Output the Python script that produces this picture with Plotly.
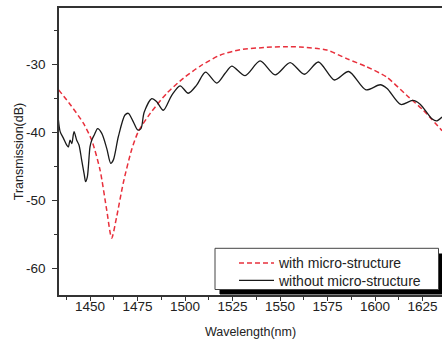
import plotly.graph_objects as go

# with micro-structure (red dashed)
wl_with = [1433.5, 1440.0, 1446.5, 1450.9, 1455.3, 1458.8, 1461.4, 1464.0, 1467.5, 1471.9,
           1475.4, 1481.6, 1490.4, 1499.1, 1508.0, 1518.4, 1528.9, 1542.9, 1552.0, 1560.5, 1574.6,
           1585.0, 1595.5, 1606.0, 1616.6, 1625.4, 1635.2]
t_with = [-33.8, -36.1, -38.7, -41.2, -45.6, -51.5, -55.6, -52.5, -47.5, -42.6,
          -39.95, -37.3, -34.3, -32.1, -30.3, -28.7, -27.9, -27.55, -27.45, -27.5, -27.95,
          -29.2, -30.4, -31.9, -34.6, -36.8, -39.8]

# without micro-structure (black solid)
wl_without = [1433.3, 1434.3, 1436.0, 1437.7, 1438.6, 1439.5, 1440.4, 1441.6, 1443.0, 1444.2,
              1445.6, 1447.0, 1447.7, 1448.6, 1450.0, 1450.9, 1452.3, 1454.0, 1456.2, 1458.8,
              1460.9, 1462.3, 1464.9, 1468.4, 1470.2, 1472.8, 1475.1, 1476.8, 1478.5, 1482.5,
              1485.0, 1488.6, 1493.0, 1497.4, 1501.7, 1506.1, 1510.8, 1516.7, 1521.0, 1524.6,
              1531.6, 1539.5, 1547.4, 1555.3, 1562.8, 1570.2, 1578.6, 1586.1, 1595.2, 1602.7,
              1606.3, 1613.5, 1619.8, 1623.7, 1629.9, 1632.5, 1635.2]
t_without = [-38.0, -39.95, -40.9, -41.9, -42.2, -41.2, -41.7, -39.95, -41.2, -41.9,
             -44.1, -46.3, -47.3, -46.6, -42.2, -41.2, -40.4, -39.5, -40.2, -42.4,
             -44.6, -44.1, -40.7, -37.5, -37.25, -38.5, -39.7, -39.5, -37.1, -35.1,
             -35.5, -36.8, -34.6, -33.2, -34.3, -33.1, -31.2, -32.8, -31.4, -30.3,
             -31.7, -29.55, -31.6, -29.8, -31.5, -29.7, -32.35, -31.1, -33.8, -33.05,
             -33.6, -35.95, -35.35, -35.9, -38.05, -38.35, -37.8]

x_ticks = [1450, 1475, 1500, 1525, 1550, 1575, 1600, 1625]
y_ticks = [-60, -50, -40, -30]

FONT = "Liberation Sans, Arial, sans-serif"
TXT = "#222"

fig = go.Figure()
fig.add_trace(go.Scatter(x=wl_with, y=t_with, mode="lines", name="with micro-structure",
                         legend="legend",
                         line=dict(color="#e8303c", width=1.5, dash="5px,3px", shape="spline", smoothing=0.7)))
fig.add_trace(go.Scatter(x=wl_without, y=t_without, mode="lines", name="without micro-structure",
                         legend="legend2",
                         line=dict(color="#1a1a1a", width=1.3, shape="spline", smoothing=0.8)))

# legend frame: drop shadow then white box, in pixel-based paper coordinates
W, H, L, T, B = 442, 339, 59, 8, 44
PW, PH = W - L, H - T - B
def px(x):
    return (x - L) / PW
def py(y):
    return (H - B - y) / PH

fig.add_shape(type="rect", xref="paper", yref="paper",
              x0=px(220), x1=px(442), y0=py(294), y1=py(254),
              fillcolor="black", line=dict(width=1, color="black"), layer="above")
fig.add_shape(type="rect", xref="paper", yref="paper",
              x0=px(215), x1=px(438.5), y0=py(289.5), y1=py(248.3),
              fillcolor="white", line=dict(width=1, color="#444"), layer="above")

leg_common = dict(bgcolor="rgba(0,0,0,0)", borderwidth=0, xanchor="left", yanchor="middle",
                  font=dict(size=14, family=FONT, color=TXT), itemwidth=35)

fig.update_layout(
    width=W, height=H,
    margin=dict(l=L, r=0, t=T, b=B),
    paper_bgcolor="white", plot_bgcolor="white",
    font=dict(family=FONT, color=TXT),
    showlegend=True,
    legend=dict(x=px(234), y=py(263.3), **leg_common),
    legend2=dict(x=px(234), y=py(280.7), **leg_common),
    xaxis=dict(range=[1433.69, 1635.2], tickmode="array", tickvals=x_ticks,
               ticktext=[str(v) for v in x_ticks],
               ticks="outside", ticklen=4, tickwidth=1, tickcolor="#333",
               showline=True, linecolor="#333", linewidth=1.5, mirror=True,
               showgrid=False, zeroline=False, ticklabelstandoff=-6,
               tickfont=dict(size=13.5, family=FONT, color=TXT),
               minor=dict(tickmode="linear", dtick=12.5, tick0=1437.5, ticks="outside", ticklen=3,
                          tickcolor="#333", showgrid=False),
               title=dict(text="Wavelength(nm)", font=dict(size=12.5, family=FONT, color=TXT), standoff=14)),
    yaxis=dict(range=[-63.97, -21.76], tickmode="array", tickvals=y_ticks,
               ticktext=[str(v) for v in y_ticks],
               ticks="outside", ticklen=5, tickwidth=1, tickcolor="#333",
               showline=True, linecolor="#333", linewidth=1.5, mirror=False,
               showgrid=False, zeroline=False, ticklabelstandoff=4,
               tickfont=dict(size=13.5, family=FONT, color=TXT),
               minor=dict(tickmode="linear", dtick=5, tick0=-65, ticks="outside", ticklen=3,
                          tickcolor="#333", showgrid=False),
               title=dict(text="Transmission(dB)", font=dict(size=12.5, family=FONT, color=TXT), standoff=0)),
)

fig.write_html("out.html")
